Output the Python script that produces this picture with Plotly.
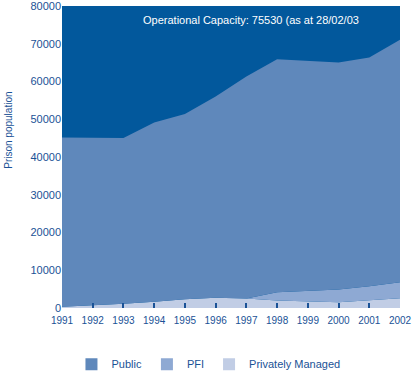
import plotly.graph_objects as go

years = [1991, 1992, 1993, 1994, 1995, 1996, 1997, 1998, 1999, 2000, 2001, 2002]
private_managed = [320, 660, 1100, 1650, 2330, 2700, 2500, 1980, 1720, 1530, 2060, 2590]
pfi = [0, 0, 0, 0, 0, 0, 0, 2200, 2720, 3360, 3710, 4240]
public = [44870, 44440, 43930, 47500, 49050, 53330, 58820, 61740, 61040, 60140, 60580, 64200]
y_ticks = [0, 10000, 20000, 30000, 40000, 50000, 60000, 70000, 80000]

C_BG = "#02589c"
C_PUBLIC = "#5f88bb"
C_PFI = "#8ea9d3"
C_PRIV = "#c1cde5"
C_TEXT = "#1a5296"
FONT = "Liberation Sans, Arial, sans-serif"

fig = go.Figure()
series = [("Privately Managed", private_managed, C_PRIV),
          ("PFI", pfi, C_PFI),
          ("Public", public, C_PUBLIC)]
for name, vals, col in series:
    fig.add_trace(go.Scatter(
        x=years, y=vals, name=name, mode="lines", stackgroup="one",
        line=dict(width=0, color=col), fillcolor=col, showlegend=False,
        hoverinfo="x+y+name"))
# legend entries as square markers
for name, vals, col in series:
    fig.add_trace(go.Scatter(
        x=[None], y=[None], name=name, mode="markers",
        marker=dict(symbol="square", size=12, color=col), showlegend=True))

fig.update_layout(
    width=415, height=372,
    margin=dict(l=62, r=15, t=6, b=64, autoexpand=False),
    paper_bgcolor="white", plot_bgcolor=C_BG,
    font=dict(family=FONT, size=11, color=C_TEXT),
    showlegend=True,
    legend=dict(orientation="h", x=0.028, xanchor="left", y=-0.186, yanchor="middle",
                traceorder="reversed", font=dict(size=11, color=C_TEXT),
                itemwidth=30, bgcolor="rgba(0,0,0,0)"),
    xaxis=dict(range=[1991, 2002], tickvals=years, ticktext=[str(y) for y in years],
               ticks="inside", ticklen=5, tickwidth=1.5, tickcolor=C_TEXT,
               tickfont=dict(family=FONT, size=10, color=C_TEXT),
               ticklabelstandoff=5, ticklabeloverflow="allow", automargin=False,
               showgrid=False, zeroline=False, showline=False, fixedrange=True),
    yaxis=dict(range=[0, 80000], tickvals=y_ticks, ticktext=[str(v) for v in y_ticks],
               tickfont=dict(family=FONT, size=11, color=C_TEXT),
               ticklabeloverflow="allow", automargin=False,
               showgrid=False, zeroline=False, showline=False, ticks="", fixedrange=True),
    annotations=[
        dict(text="Operational Capacity: 75530 (as at 28/02/03", xref="paper", yref="paper",
             x=0.234, y=0.954, xanchor="left", yanchor="middle", showarrow=False,
             font=dict(color="white", size=11)),
        dict(text="Prison population", xref="paper", yref="paper", textangle=-90,
             x=-0.157, y=0.59, xanchor="center", yanchor="middle", showarrow=False,
             font=dict(color=C_TEXT, size=10, family=FONT)),
    ],
)

fig.write_html("out.html", config={"displayModeBar": False},
               post_script="document.body.style.margin='0px';")
